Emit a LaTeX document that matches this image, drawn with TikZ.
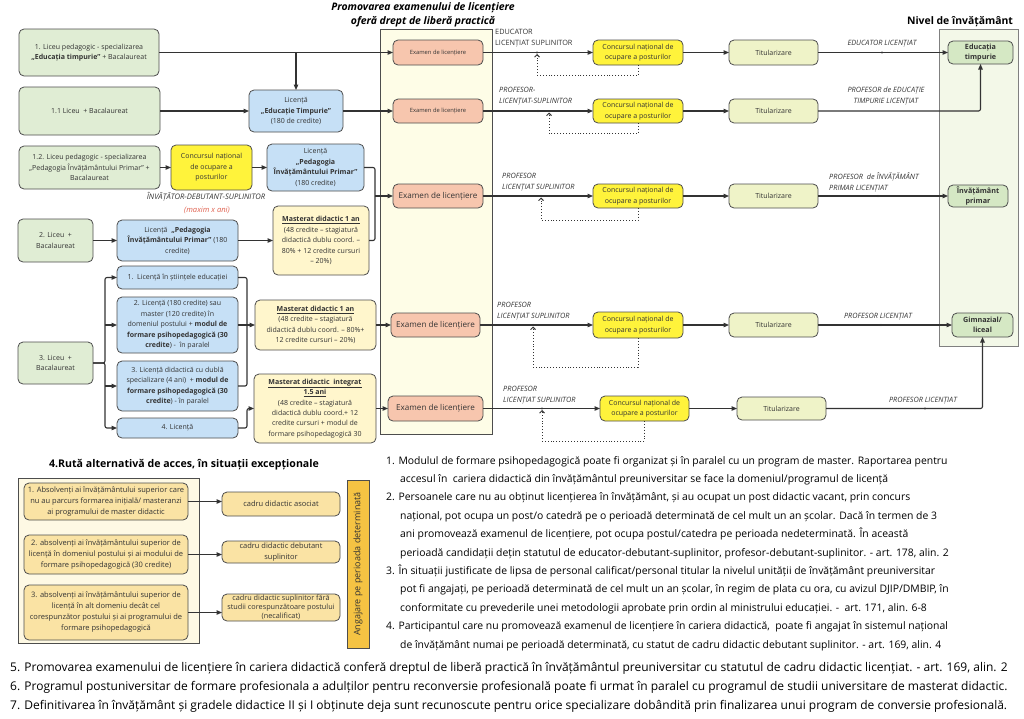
\documentclass[tikz,border=0pt]{standalone}
\usepackage{fontspec}
\setmainfont{Open Sans}
\usetikzlibrary{arrows.meta,calc}
\definecolor{gfill}{HTML}{E0EDD4}
\definecolor{bfill}{HTML}{C6E0F6}
\definecolor{yfill}{HTML}{FFF33B}
\definecolor{mfill}{HTML}{FFF6CC}
\definecolor{efill}{HTML}{F7C6AE}
\definecolor{tfill}{HTML}{EFF3C8}
\definecolor{ecol}{HTML}{FEFDE7}
\definecolor{ncol}{HTML}{F3F8E8}
\definecolor{nfill}{HTML}{D5E8C4}
\definecolor{afill}{HTML}{FAE3A4}
\definecolor{aout}{HTML}{FEF9E4}
\definecolor{barfill}{HTML}{F5C343}
\definecolor{bord}{HTML}{4D4D4D}
\definecolor{lc}{HTML}{333333}
\definecolor{txt}{HTML}{333333}
\definecolor{redtxt}{HTML}{E0604E}
\tikzset{
  geom/.style n args={4}{at={({(#1+#3)/2},{(#2+#4)/2})},minimum width={(#3-#1)*1pt},minimum height={(#4-#2)*1pt}},
  base/.style={draw=bord, line width=0.8pt, rounded corners=5pt, inner sep=0pt, outer sep=0pt, align=center, text=txt, font=\fontsize{7}{10.5}\selectfont},
  gbox/.style={base, fill=gfill},
  bbox/.style={base, fill=bfill},
  ybox/.style={base, fill=yfill},
  mbox/.style={base, fill=mfill},
  ebox/.style={base, fill=efill},
  tbox/.style={base, fill=tfill},
  nbox/.style={base, fill=nfill, font=\fontsize{7.2}{10}\selectfont\bfseries},
  abox/.style={base, fill=afill, font=\fontsize{7.5}{11}\selectfont},
  colbg/.style={draw=bord, line width=0.9pt, inner sep=0pt, outer sep=0pt},
  conn/.style={draw=lc, line width=1.1pt, rounded corners=2pt},
  arr/.style={conn, -{Triangle[length=5.5pt,width=4.5pt]}},
  dret/.style={draw=lc, line width=0.9pt, dotted, -{Straight Barb[length=2.5pt,width=5pt]}, shorten >=1.5pt},
  lab/.style={font=\fontsize{7.3}{11}\selectfont\itshape, text=txt, inner sep=0pt, align=left},
  labu/.style={font=\fontsize{7.3}{11}\selectfont, text=txt, inner sep=0pt, align=left},
  head/.style={font=\fontsize{10.5}{14}\selectfont\bfseries, text=black, inner sep=0pt, align=center},
  notes/.style={font=\fontsize{10.4}{18.4}\selectfont, text=black, inner sep=0pt, align=left},
  dot/.style={fill=lc}
}
\begin{document}
\begin{tikzpicture}[x=1pt,y=-1pt]
\useasboundingbox (0,0) rectangle (1024,718);
\fill[white] (0,0) rectangle (1024,718);

% column backgrounds
\node[colbg, fill=ecol, geom={380}{29}{492}{434}] (ecolumn) {};
\node[colbg, fill=ncol, draw=gray, geom={939}{29}{1018}{346}] (ncolumn) {};

% headers
\node[head, font=\fontsize{10.4}{14}\selectfont\bfseries\itshape] (h1) at (423,15) {Promovarea examenului de licențiere\\oferă drept de liberă practică};
\node[head, font=\fontsize{10.4}{12}\selectfont\bfseries] (h2) at (960,22) {Nivel de învățământ};

% left column
\node[gbox, geom={19}{29}{159}{76}] (l1) {1. Liceu pedagogic - specializarea\\\textbf{„Educația timpurie”} + Bacalaureat};
\node[gbox, geom={19}{87}{160}{135}] (l11) {1.1 Liceu\ \ + Bacalaureat};
\node[gbox, geom={19}{146}{160}{189}] (l12) {1.2. Liceu pedagogic - specializarea\\„Pedagogia Învățământului Primar” +\\Bacalaureat};
\node[gbox, geom={18}{219}{93}{262}] (l2) {2. Liceu\ \ +\\Bacalaureat};
\node[gbox, geom={18}{342}{93}{384}] (l3) {3. Liceu\ \ +\\Bacalaureat};

\node[bbox, geom={249}{90}{343}{132}] (let) {Licență\\\textbf{„Educație Timpurie”}\\(180 de credite)};
\node[ybox, geom={171}{145}{252}{190}] (c0) {Concursul național\\de ocupare a\\posturilor};
\node[bbox, geom={267}{144}{364}{191}] (lpip1) {Licență\\\textbf{„Pedagogia}\\\textbf{Învățământului Primar”}\\(180 credite)};
\node[lab, font=\fontsize{7.6}{11}\selectfont\itshape] (inv) at (206,197) {ÎNVĂȚĂTOR-DEBUTANT-SUPLINITOR};
\node[lab, text=redtxt, font=\fontsize{7.6}{11}\selectfont\itshape] (maxim) at (207,210) {(maxim x ani)};

\node[bbox, geom={117}{220}{238}{261}] (lpip2) {Licență\ \ \textbf{„Pedagogia}\\\textbf{Învățământului Primar”} (180\\credite)};
\node[mbox, geom={273}{206}{369}{275}] (m1) {\underline{\textbf{Masterat didactic 1 an}}\\(48 credite – stagiatură\\didactică dublu coord. –\\80\% + 12 credite cursuri\\– 20\%)};

\node[bbox, geom={117}{266}{238}{289}] (b1) {1.\ \ Licență în științele educației};
\node[bbox, geom={117}{297}{238}{353}] (b2) {2. Licență (180 credite) sau\\master (120 credite) în\\domeniul postului + \textbf{modul de}\\\textbf{formare psihopedagogică (30}\\\textbf{credite}) -\ \ în paralel};
\node[bbox, geom={117}{361}{238}{411}] (b3) {3. Licență didactică cu dublă\\specializare (4 ani)\ \ + \textbf{modul de}\\\textbf{formare psihopedagogică (30}\\\textbf{credite}) - în paralel};
\node[bbox, geom={117}{418}{238}{438}] (b4) {4. Licență};
\node[mbox, geom={255}{300}{376}{350}] (m2) {\underline{\textbf{Masterat didactic 1 an}}\\(48 credite – stagiatură\\didactică dublu coord. – 80\%+\\12 credite cursuri – 20\%)};
\node[mbox, font=\fontsize{7}{10.4}\selectfont, geom={254}{374}{376}{443}] (m3) {\underline{\textbf{Masterat didactic\ \ integrat}}\\\underline{\textbf{1.5 ani}}\\(48 credite – stagiatură\\didactică dublu coord.+ 12\\credite cursuri + modul de\\formare psihopedagogică 30};

% exam boxes
\node[ebox, font=\fontsize{5.8}{6}\selectfont, geom={393}{40}{483}{65}] (e1) {Examen de licențiere};
\node[ebox, font=\fontsize{5.8}{6}\selectfont, geom={393}{99}{483}{123}] (e2) {Examen de licențiere};
\node[ebox, font=\fontsize{8.1}{10}\selectfont, geom={393}{184}{483}{208}] (e3) {Examen de licențiere};
\node[ebox, font=\fontsize{8.1}{10}\selectfont, geom={391}{313}{480}{337}] (e4) {Examen de licențiere};
\node[ebox, font=\fontsize{8.1}{10}\selectfont, geom={388}{396}{483}{421}] (e5) {Examen de licențiere};

% concursul boxes
\node[ybox, geom={593}{40}{683}{65}] (c1) {Concursul național de\\ocupare a posturilor};
\node[ybox, geom={593}{99}{683}{123}] (c2) {Concursul național de\\ocupare a posturilor};
\node[ybox, geom={593}{184}{683}{208}] (c3) {Concursul național de\\ocupare a posturilor};
\node[ybox, geom={593}{312}{683}{338}] (c4) {Concursul național de\\ocupare a posturilor};
\node[ybox, geom={600}{396}{689}{421}] (c5) {Concursul național de\\ocupare a posturilor};

% titularizare
\node[tbox, geom={729}{40}{818}{65}] (t1) {Titularizare};
\node[tbox, geom={729}{99}{818}{123}] (t2) {Titularizare};
\node[tbox, geom={729}{184}{818}{208}] (t3) {Titularizare};
\node[tbox, geom={729}{313}{818}{337}] (t4) {Titularizare};
\node[tbox, geom={737}{397}{826}{420}] (t5) {Titularizare};

% nivel boxes
\node[nbox, geom={948}{41}{1013}{64}] (n1) {Educația\\timpurie};
\node[nbox, geom={948}{185}{1008}{207}] (n2) {Învățământ\\primar};
\node[nbox, geom={952}{313}{1013}{337}] (n3) {Gimnazial/\\liceal};

% labels
\node[labu, anchor=west] (la1) at (495,38.5) {EDUCATOR\\LICENȚIAT SUPLINITOR};
\node[lab, anchor=west] (la2) at (499,96.5) {PROFESOR-\\LICENȚIAT-SUPLINITOR};
\node[lab, anchor=west] (la3) at (502,182.5) {PROFESOR\\LICENȚIAT SUPLINITOR};
\node[lab, anchor=west] (la4) at (497,311.5) {PROFESOR\\LICENȚIAT SUPLINITOR};
\node[lab, anchor=west] (la5) at (503,395) {PROFESOR\\LICENȚIAT SUPLINITOR};
\node[lab] (lb1) at (882,44) {EDUCATOR LICENȚIAT};
\node[lab, align=center] (lb2) at (886,96.5) {PROFESOR de EDUCAȚIE\\TIMPURIE LICENȚIAT};
\node[lab, anchor=west] (lb3) at (829,182) {PROFESOR\ \ de ÎNVĂȚĂMÂNT\\PRIMAR LICENȚIAT};
\node[lab] (lb4) at (878,317) {PROFESOR LICENȚIAT};
\node[lab] (lb5) at (923,401) {PROFESOR LICENȚIAT};

% connectors left part
\draw[arr] (l1.east) -- (e1.west);
\draw[arr] (let.north |- l1.east) -- (let.north);
\draw[arr] (l11.east) -- (let.west);
\draw[arr] (let.east) -- (e2.west);
\draw[arr] (l12.east) -- (c0.west);
\draw[arr] (c0.east) -- (lpip1.west);
\coordinate (j3) at (375,196);
\draw[conn] (lpip1.east) -| (j3);
\draw[conn] (m1.east) -| (j3);
\draw[arr] (j3) -- (e3.west);
\draw[arr] (l2.east) -- (lpip2.west);
\draw[arr] (lpip2.east) -- (m1.west);
\coordinate (tk) at (105,0);
\draw[arr] (l3.east) -- (tk |- l3.east) |- (b1.west);
\draw[arr] (l3.east) -- (tk |- l3.east) |- (b4.west);
\draw[arr] (tk |- b2.west) -- (b2.west);
\draw[arr] (tk |- b3.west) -- (b3.west);
\coordinate (mg) at (247,0);
\draw[conn] (b1.east) -| (mg |- b3.east) -- (b3.east);
\draw[arr] (b2.east) -- (m2.west);
\draw[arr] (b4.east) -| (mg |- m3.west) -- (m3.west);
\draw[arr] (m2.east) -- (e4.west);
\draw[arr] (m3.east) -- (e5.west);

% rows
\foreach \i in {1,...,5} {
  \draw[arr] (e\i.east) -- (c\i.west);
  \draw[arr] (c\i.east) -- (t\i.west);
}
\draw[arr] (t1.east) -- (n1.west);
\draw[arr] (t2.east) -| (n1.south);
\draw[arr] (t3.east) -- (n2.west);
\draw[arr] (t4.east) -- (n3.west);
\draw[arr] (t5.east) -| (n3.south);

% dotted returns
\coordinate (d1) at (537,75);
\coordinate (d2) at (549,133);
\coordinate (d3) at (541,220);
\coordinate (d4) at (533,367);
\coordinate (d5) at (542,441);
\draw[dret] (c1.south) |- (d1) -- (d1 |- e1.east);
\draw[dret] (c2.south) |- (d2) -- (d2 |- e2.east);
\draw[dret] (c3.south) |- (d3) -- (d3 |- e3.east);
\draw[dret] (c4.south) |- (d4) -- (d4 |- e4.east);
\draw[dret] (c5.south) |- (d5) -- (d5 |- e5.east);

% small dots on lines
\foreach \x/\y in {537/52.5,538/111,541/196,533/325,542/408.5,882/52.5,878/196,881/325,925/408.5}
  \fill[dot] (\x,\y) circle (1.1pt);

% bottom-left section
\node[head, font=\fontsize{10.6}{14}\selectfont\bfseries] (h3) at (184,465) {4.Rută alternativă de acces, în situații excepționale};
\node[colbg, fill=aout, geom={18}{478}{199}{643}] (aouter) {};
\node[abox, geom={24}{483}{188}{520}] (a1) {1. Absolvenți ai învățământului superior care\\nu au parcurs formarea inițială/ masteranzi\\ai programului de master didactic};
\node[abox, geom={24}{535}{188}{574}] (a2) {2. absolvenți ai învățământului superior de\\licență în domeniul postului și ai modului de\\formare psihopedagogică (30 credite)};
\node[abox, geom={24}{585}{188}{640}] (a3) {3. absolvenți ai învățământului superior de\\licență în alt domeniu decât cel\\corespunzător postului și ai programului de\\formare psihopedagogică};
\node[abox, geom={222}{492}{340}{516}] (r1) {cadru didactic asociat};
\node[abox, geom={222}{541}{340}{563}] (r2) {cadru didactic debutant\\suplinitor};
\node[abox, font=\fontsize{7.3}{9.2}\selectfont, geom={222}{594}{340}{621}] (r3) {cadru didactic suplinitor fără\\studii corespunzătoare postului\\(necalificat)};
\node[draw=bord, line width=0.8pt, fill=barfill, rotate=90, minimum width=168pt, minimum height=22pt, inner sep=0pt, text=txt, font=\fontsize{9}{10}\selectfont] (bar) at (358,564) {Angajare pe perioada determinată};
\draw[arr] (a1.east) -- (a1.east -| r1.west);
\draw[arr] (a2.east) -- (a2.east -| r2.west);
\draw[arr] (a3.east) -- (a3.east -| r3.west);

% notes 1-4
\node[notes, anchor=north west] (notes14) at (386,456) {1. Modulul de formare psihopedagogică poate fi organizat și în paralel cu un program de master. Raportarea pentru\\
\hspace*{14pt}accesul în\ \ cariera didactică din învățământul preuniversitar se face la domeniul/programul de licență\\
2. Persoanele care nu au obținut licențierea în învățământ, și au ocupat un post didactic vacant, prin concurs\\
\hspace*{14pt}național, pot ocupa un post/o catedră pe o perioadă determinată de cel mult un an școlar. Dacă în termen de 3\\
\hspace*{14pt}ani promovează examenul de licențiere, pot ocupa postul/catedra pe perioada nedeterminată. În această\\
\hspace*{14pt}perioadă candidații dețin statutul de educator-debutant-suplinitor, profesor-debutant-suplinitor. - art. 178, alin. 2\\
3. În situații justificate de lipsa de personal calificat/personal titular la nivelul unității de învățământ preuniversitar\\
\hspace*{14pt}pot fi angajați, pe perioadă determinată de cel mult un an școlar, în regim de plata cu ora, cu avizul DJIP/DMBIP, în\\
\hspace*{14pt}conformitate cu prevederile unei metodologii aprobate prin ordin al ministrului educației. -\ \ art. 171, alin. 6-8\\
4. Participantul care nu promovează examenul de licențiere în cariera didactică,\ \ poate fi angajat în sistemul național\\
\hspace*{14pt}de învățământ numai pe perioadă determinată, cu statut de cadru didactic debutant suplinitor. - art. 169, alin. 4};

% notes 5-7
\node[notes, font=\fontsize{12}{19}\selectfont, anchor=north west] (notes57) at (10,662) {5. Promovarea examenului de licențiere în cariera didactică conferă dreptul de liberă practică în învățământul preuniversitar cu statutul de cadru didactic licențiat. - art. 169, alin. 2\\
6. Programul postuniversitar de formare profesionala a adulților pentru reconversie profesională poate fi urmat în paralel cu programul de studii universitare de masterat didactic.\\
7. Definitivarea în învățământ și gradele didactice II și I obținute deja sunt recunoscute pentru orice specializare dobândită prin finalizarea unui program de conversie profesională.};
\end{tikzpicture}
\end{document}
